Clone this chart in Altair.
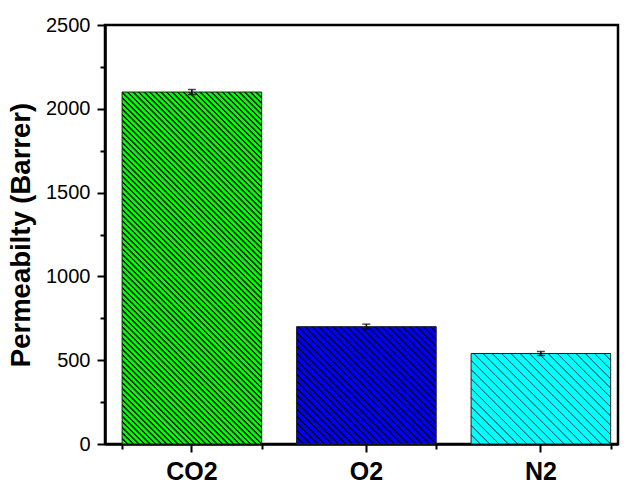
import altair as alt
import pandas as pd

# ---- data ----
categories = ["CO2", "O2", "N2"]
values = [2100, 700, 540]
errors = [15, 15, 12]

# ---- styling ----
fill_colors = ["#00ff00", "#0000f0", "#00ffff"]
stripe_colors = ["#002200", "#000010", "#006868"]
stripes_per_tile = [5, 4, 3]       # hatch density of each bar
stripe_widths = [2.2, 1.8, 1.4]     # hatch line width (px, horizontal)
y_ticks = [0, 500, 1000, 1500, 2000, 2500]
y_minor = [250, 750, 1250, 1750, 2250]

W, H = 513, 419
Y_MAX = 2500
PAD_INNER, PAD_OUTER, ALIGN = 0.2, 0.07, 0.7
N_COLS = 5
FONT = "Liberation Sans"

df = pd.DataFrame({"gas": categories, "perm": values, "err": errors})

step = W / (len(categories) - PAD_INNER + 2 * PAD_OUTER)
bar_w = step * (1 - PAD_INNER)
tile = bar_w / N_COLS          # square tiles (px)


def hex_rgb(c):
    c = c.lstrip("#")
    return [int(c[i:i + 2], 16) for i in (0, 2, 4)]


def mix(c1, c2, t):
    a, b = hex_rgb(c1), hex_rgb(c2)
    return "#" + "".join(f"{round(x + (y - x) * t):02x}" for x, y in zip(a, b))


def tile_gradient(base, line, tw, th, period, lw, ramp=0.8):
    """Hatch ('\\' lines) for one tile, as a linear gradient in bbox units."""
    L = tw + th

    def cov(g):
        k = round(g / period)
        d = abs(g - k * period)
        if d <= lw / 2 - ramp / 2:
            return 1.0
        if d >= lw / 2 + ramp / 2:
            return 0.0
        return (lw / 2 + ramp / 2 - d) / ramp

    pts = {0.0, L}
    k = 0
    while k * period <= L + period:
        c = k * period
        for g in (c - lw / 2 - ramp / 2, c - lw / 2 + ramp / 2,
                  c + lw / 2 - ramp / 2, c + lw / 2 + ramp / 2):
            if 0 < g < L:
                pts.add(g)
        k += 1
    stops = [alt.GradientStop(offset=g / L, color=mix(base, line, cov(g)))
             for g in sorted(pts)]
    a = (tw + th) / (tw * tw + th * th)
    return alt.LinearGradient(gradient="linear", stops=stops,
                              x1=0, y1=1, x2=a * tw, y2=1 - a * th)


# tiles that carry the hatch, derived from the bar values
rows = []
for k, cat in enumerate(categories):
    h_px = values[k] / Y_MAX * H
    n_full = int(h_px // tile)
    dv = tile / H * Y_MAX
    for j in range(n_full):
        for c in range(N_COLS):
            rows.append({"gas": cat, "col": c, "lo": j * dv, "hi": (j + 1) * dv, "kind": "full"})
    if h_px - n_full * tile > 0.05:
        for c in range(N_COLS):
            rows.append({"gas": cat, "col": c, "lo": n_full * dv, "hi": values[k], "kind": "part"})
tiles = pd.DataFrame(rows)

x_scale = alt.Scale(domain=categories, paddingInner=PAD_INNER, paddingOuter=PAD_OUTER,
                    align=ALIGN)
y_scale = alt.Scale(domain=[0, Y_MAX], nice=False)
off_scale = alt.Scale(domain=list(range(N_COLS)), paddingInner=0, paddingOuter=0)

x_axis = alt.Axis(title=None, labelFont=FONT, labelFontSize=25, labelFontWeight="bold",
                  labelColor="black", labelAngle=0, labelBaseline="alphabetic",
                  labelPadding=27, tickSize=8, tickWidth=2, tickColor="black",
                  domainColor="black", domainWidth=2.5, grid=False)
y_axis = alt.Axis(values=y_ticks, format="d", title="Permeabilty (Barrer)", titleFont=FONT,
                  titleFontSize=27.5, titleFontWeight="bold", titleColor="black",
                  titleAngle=270, titleX=-76, titleY=H / 2, titleAlign="center",
                  titleBaseline="alphabetic", labelFont=FONT, labelFontSize=20,
                  labelColor="black", labelPadding=7, tickSize=8, tickWidth=2,
                  tickColor="black", domainColor="black", domainWidth=2.5, grid=False)
x_minor_axis = alt.Axis(orient="bottom", tickBand="extent", labels=False, domain=False,
                        tickSize=5, tickWidth=2, tickColor="black", title=None, grid=False)
y_minor_axis = alt.Axis(orient="left", values=y_minor, labels=False, domain=False,
                        tickSize=5, tickWidth=2, tickColor="black", title=None, grid=False)


def X(axis=None):
    return alt.X("gas:N", scale=x_scale, sort=categories, axis=axis)


layers = []
for k, cat in enumerate(categories):
    period = tile / stripes_per_tile[k]
    # base fill
    layers.append(
        alt.Chart(df).transform_filter(alt.datum.gas == cat)
        .mark_bar(fill=fill_colors[k], strokeWidth=0)
        .encode(x=X(x_axis if k == 0 else None),
                y=alt.Y("perm:Q", scale=y_scale, axis=y_axis if k == 0 else None))
    )
    # hatch tiles
    h_px = values[k] / Y_MAX * H
    part_h = h_px - int(h_px // tile) * tile
    for kind, th in (("full", tile), ("part", part_h)):
        if kind == "part" and part_h <= 0.05:
            continue
        grad = tile_gradient(fill_colors[k], stripe_colors[k], tile, th,
                             period, stripe_widths[k])
        layers.append(
            alt.Chart(tiles)
            .transform_filter((alt.datum.gas == cat) & (alt.datum.kind == kind))
            .mark_bar(fill=grad, strokeWidth=0)
            .encode(x=X(), xOffset=alt.XOffset("col:O", scale=off_scale),
                    y=alt.Y("lo:Q", scale=y_scale, axis=None), y2="hi:Q")
        )
    # outline
    layers.append(
        alt.Chart(df).transform_filter(alt.datum.gas == cat)
        .mark_bar(fill="white", fillOpacity=0, stroke="#222222", strokeWidth=1)
        .encode(x=X(), y=alt.Y("perm:Q", scale=y_scale, axis=None))
    )

err_base = alt.Chart(df).transform_calculate(
    lo="datum.perm - datum.err", hi="datum.perm + datum.err")

rule = err_base.mark_rule(color="black", strokeWidth=1.5).encode(
    x=X(x_minor_axis),
    y=alt.Y("lo:Q", scale=y_scale, axis=y_minor_axis),
    y2="hi:Q",
)
cap_lo = err_base.mark_tick(color="black", thickness=1.5, size=8).encode(
    x=X(), y=alt.Y("lo:Q", scale=y_scale, axis=None))
cap_hi = err_base.mark_tick(color="black", thickness=1.5, size=8).encode(
    x=X(), y=alt.Y("hi:Q", scale=y_scale, axis=None))

chart = (
    alt.layer(*layers, rule, cap_lo, cap_hi)
    .resolve_axis(x="independent", y="independent")
    .properties(
        width=W, height=H,
        autosize=alt.AutoSizeParams(type="none"),
        padding={"left": 97, "top": 17, "right": 2, "bottom": 40},
        background="white",
    )
    .configure_view(stroke="black", strokeWidth=2.5)
)

chart.save("out.html", embed_options={"renderer": "svg", "actions": False})
